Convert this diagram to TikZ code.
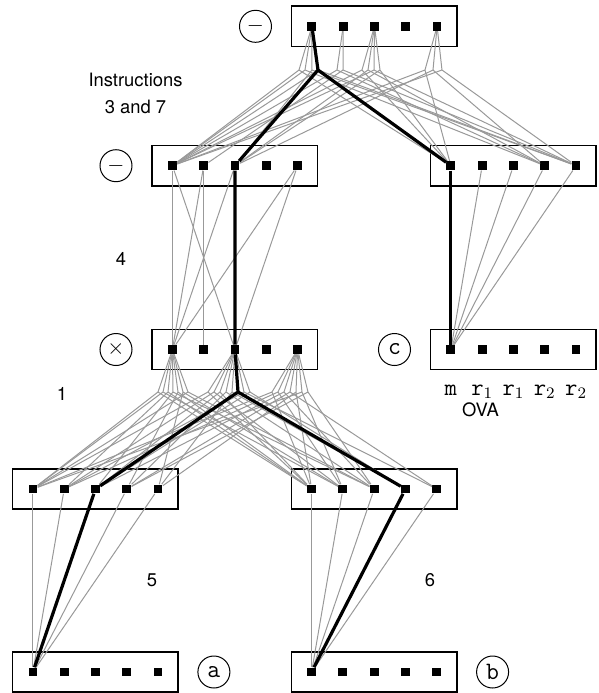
\documentclass[tikz,border=0pt]{standalone}
\usepackage{fontspec}
\setsansfont{TeX Gyre Heros}
\usepackage{tikz}
\usetikzlibrary{positioning}
\tikzset{
  ovabox/.style={
    rectangle,
    draw,
    line width=0.75pt,
    minimum width=82.75pt,
    minimum height=20.15pt,
    inner sep=0pt
  },
  slot/.style={
    rectangle,
    fill=black,
    minimum size=4.4pt,
    inner sep=0pt
  },
  opcircle/.style={
    circle,
    draw,
    line width=0.5pt,
    minimum size=16pt,
    inner sep=0pt,
    font=\fontsize{11}{11}\selectfont
  },
  wire/.style={draw=black!40, line width=0.5pt},
  mainwire/.style={line width=1.6pt},
  steplabel/.style={font=\sffamily\fontsize{9.2}{13.5}\selectfont, align=center},
  slotlabel/.style={font=\ttfamily\fontsize{12}{12}\selectfont, anchor=base}
}
\newcommand{\ovarow}[3]{%
  \node[ovabox] (#1) at (#2,#3) {};
  \foreach \i in {1,...,5}
    \node[slot] (#1-\i) at ([xshift={(\i-3)*15.65pt}]#1.center) {};
}

\begin{document}
\begin{tikzpicture}[x=0.5pt, y={(0pt,-0.5pt)}]
  \useasboundingbox (0,0) rectangle (599,693);
  % the OVA rows
  \ovarow{sub}{374.5}{26.3}
  \ovarow{suba}{235}{165.7}
  \ovarow{subb}{513.5}{165.7}
  \ovarow{mul}{235}{349.5}
  \ovarow{cvar}{513.5}{349.5}
  \ovarow{mula}{95.5}{489}
  \ovarow{mulb}{374.2}{489}
  \ovarow{ina}{95.5}{672}
  \ovarow{inb}{374.2}{672}
  \node[opcircle, left=9.5pt of sub] (op-sub) {$-$};
  \node[opcircle, left=9.5pt of suba] (op-suba) {$-$};
  \node[opcircle, left=9.5pt of mul] (op-mul) {$\times$};
  \node[opcircle, left=9.5pt of cvar] (op-c) {\ttfamily\fontsize{12.5}{12}\selectfont c};
  \node[opcircle, right=9.2pt of ina] (op-a) {\ttfamily\fontsize{12.5}{12}\selectfont a};
  \node[opcircle, right=9.2pt of inb] (op-b) {\ttfamily\fontsize{12.5}{12}\selectfont b};
  \coordinate (jsub) at (318,70);
  \coordinate (jmul) at (238,392);
  % instructions 3 and 7
  \foreach \s/\bx/\l/\r in {1/299/1/1, 1/305/1/4, 1/312/3/5, 1/318/1/5, 2/337/1/4, 2/343/2/5,
      3/362/1/1, 3/368/3/4, 3/374/1/5, 3/380/3/1, 5/425/1/1, 5/433/3/4, 5/442/1/5}
    \draw[wire] (suba-\l) -- (\bx,70) -- (subb-\r) (\bx,70) -- (sub-\s);
  % instruction 4
  \foreach \u/\v in {1/1, 1/3, 2/1, 2/2, 3/1, 5/1, 5/3}
    \draw[wire] (suba-\u) -- (mul-\v);
  \foreach \u in {2,...,5}
    \draw[wire] (subb-\u) -- (cvar-1);
  % instruction 1
  \foreach \s/\bx/\l/\r in {1/158/1/1, 1/163/1/2, 1/168/2/1, 1/173/3/3, 1/178/4/1, 1/183/5/2, 1/188/1/3,
      3/208/1/1, 3/214/2/2, 3/220/3/1, 3/226/4/3, 3/232/5/4, 3/244/2/5, 3/250/3/4,
      5/272/1/1, 5/278/2/2, 5/284/3/3, 5/290/4/5, 5/296/5/1, 5/302/1/2, 5/308/4/3}
    \draw[wire] (mula-\l) -- (\bx,392) -- (mulb-\r) (\bx,392) -- (mul-\s);
  % instructions 5 and 6
  \foreach \u in {1,...,5} {
    \draw[wire] (mula-\u) -- (ina-1);
    \draw[wire] (mulb-\u) -- (inb-1);
  }
  % the path of m
  \draw[mainwire] (sub-1) -- (jsub) -- (suba-3);
  \draw[mainwire] (jsub) -- (subb-1);
  \draw[mainwire] (suba-3) -- (mul-3) -- (jmul) -- (mula-3);
  \draw[mainwire] (subb-1) -- (cvar-1);
  \draw[mainwire] (jmul) -- (mulb-4);
  \draw[mainwire] (mula-3) -- (ina-1);
  \draw[mainwire] (mulb-4) -- (inb-1);
  % labels
  \node[steplabel] (lbl-37) at (135.5,93) {Instructions\\3 and 7};
  \node[steplabel] (lbl-4) at (121,259) {4};
  \node[steplabel] (lbl-1) at (62,394) {1};
  \node[steplabel] (lbl-5) at (152,580) {5};
  \node[steplabel] (lbl-6) at (430,580) {6};
  \coordinate (tagline) at (0,395);
  \foreach \i/\t in {1/m, 2/r$_1$, 3/r$_1$, 4/r$_2$, 5/r$_2$}
    \node[slotlabel] (tag-\i) at (cvar-\i |- tagline) {\t};
  \node[steplabel] (lbl-ova) at (480.5,410) {OVA};
\end{tikzpicture}
\end{document}
